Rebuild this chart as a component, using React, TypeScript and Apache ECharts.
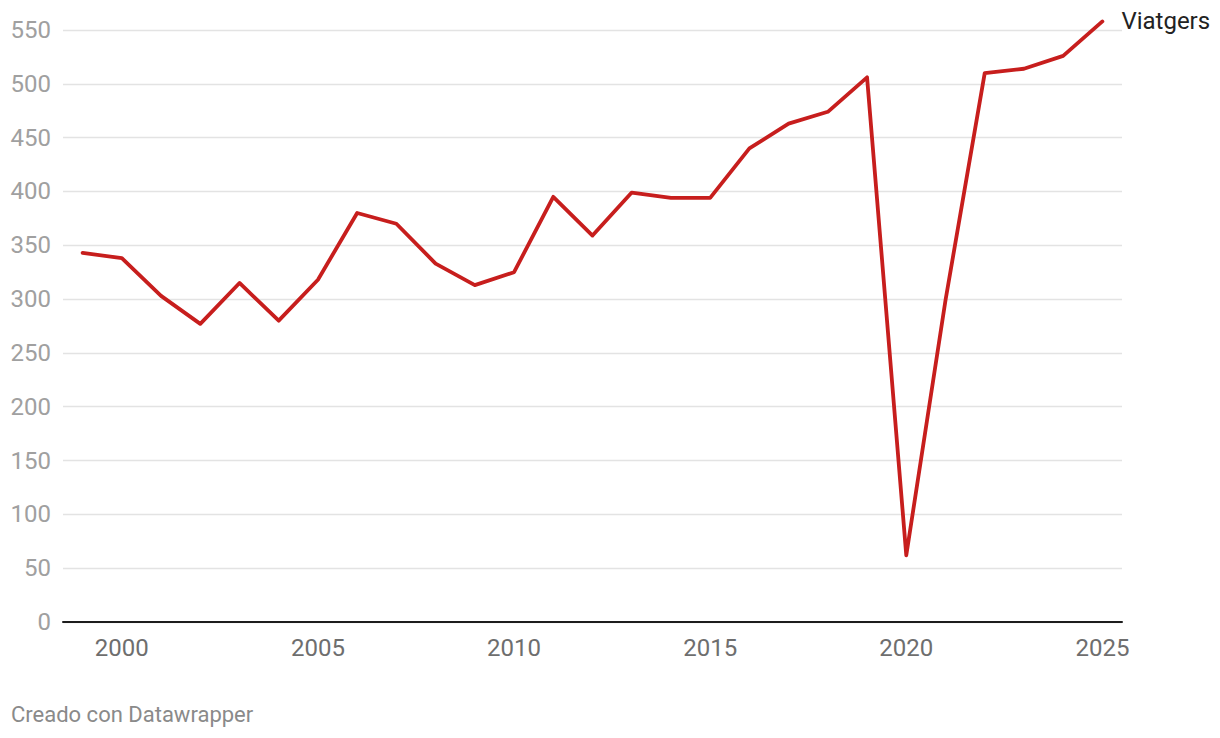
import React, { useEffect, useRef } from "react";
import * as echarts from "echarts";

const years: string[] = [
  "1999", "2000", "2001", "2002", "2003", "2004", "2005", "2006", "2007",
  "2008", "2009", "2010", "2011", "2012", "2013", "2014", "2015", "2016",
  "2017", "2018", "2019", "2020", "2021", "2022", "2023", "2024", "2025",
];

const viatgers: number[] = [
  343, 338, 303, 277, 315, 280, 318, 380, 370,
  333, 313, 325, 395, 359, 399, 394, 394, 440,
  463, 474, 506, 62, 299, 510, 514, 526, 558,
];

const seriesName = "Viatgers";
const credit = "Creado con Datawrapper";

export default function App() {
  const ref = useRef<HTMLDivElement>(null);

  useEffect(() => {
    if (!ref.current) return;
    const chart = echarts.init(ref.current, undefined, { renderer: "svg" });
    chart.setOption({
      animation: false,
      backgroundColor: "#ffffff",
      textStyle: { fontFamily: "Roboto" },
      grid: { left: 63, right: 98, top: 30, bottom: 116, containLabel: false },
      xAxis: {
        type: "category",
        data: years,
        boundaryGap: true,
        axisLine: { show: true, lineStyle: { color: "#1d1d1d", width: 2 } },
        axisTick: { show: false },
        splitLine: { show: false },
        axisLabel: {
          interval: (_i: number, v: string) => Number(v) % 5 === 0,
          color: "#6e6e6e",
          fontSize: 24,
          fontFamily: "Roboto",
          margin: 14,
        },
      },
      yAxis: {
        type: "value",
        min: 0,
        max: 550,
        interval: 50,
        axisLine: { show: false },
        axisTick: { show: false },
        splitLine: { show: true, lineStyle: { color: "#e3e3e3", width: 1.3 } },
        axisLabel: {
          color: "#a0a0a0",
          fontSize: 24,
          fontFamily: "Roboto",
          margin: 12,
        },
      },
      graphic: [
        {
          type: "text",
          left: 11,
          top: 703,
          style: {
            text: credit,
            fill: "#8a8a8a",
            fontSize: 22,
            fontFamily: "Roboto",
          },
        },
      ],
      series: [
        {
          name: seriesName,
          type: "line",
          data: viatgers,
          symbol: "none",
          clip: false,
          lineStyle: { color: "#c71e1d", width: 3.8, cap: "round", join: "round" },
          endLabel: {
            show: true,
            formatter: seriesName,
            color: "#222222",
            fontSize: 24,
            fontFamily: "Roboto",
            distance: 19,
          },
        },
      ],
    });
    return () => chart.dispose();
  }, []);

  return (
    <div
      ref={ref}
      style={{ position: "fixed", left: 0, top: 0, width: 1220, height: 738 }}
    />
  );
}
